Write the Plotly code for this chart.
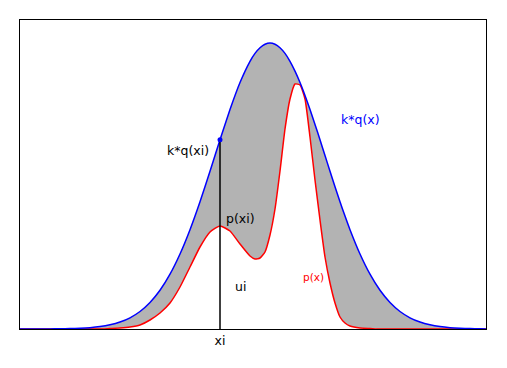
import plotly.graph_objects as go

# x positions (arbitrary units along the axis)
x_vals = [0, 10, 20, 30, 40, 50, 60, 70, 80, 90, 100, 110, 120, 130, 140, 150, 160, 170, 180, 190,
          200, 210, 220, 230, 235, 240, 245, 250, 255, 260, 265, 270, 275, 280, 285, 290, 295, 300,
          305, 310, 315, 320, 325, 330, 340, 350, 360, 370, 380, 390, 400, 410, 420, 430, 440,
          450, 460, 466]

# envelope k*q(x)
kq_vals = [0.0, 0.02, 0.05, 0.10, 0.19, 0.38, 0.73, 1.35, 2.41, 4.16, 6.94, 11.2, 17.5, 26.5, 38.7,
           54.8, 75.0, 99.3, 127.2, 157.7, 189.2, 219.5, 246.5, 267.7, 275.6, 281.3, 284.8, 286.0,
           284.8, 281.3, 275.6, 267.7, 257.9, 246.5, 233.6, 219.5, 204.6, 189.2, 173.5, 157.7,
           142.3, 127.2, 112.9, 99.3, 75.0, 54.8, 38.7, 26.5, 17.5, 11.2, 6.94, 4.16, 2.41,
           1.35, 0.73, 0.38, 0.19, 0.12]

# target density p(x)
p_vals = [0, 0, 0, 0, 0, 0, 0, 0, 0, 0.5, 1, 2, 4, 9, 16, 26, 42, 62, 82, 97,
          103, 98, 85,
          73, 70, 71, 77, 94, 120, 158, 200, 230, 245, 244, 230, 192, 149, 109, 72, 46, 26, 12, 6, 3,
          1, 0.5, 0, 0, 0, 0, 0, 0, 0, 0, 0, 0, 0,
          0]

xi = 200
kq_xi = 189.2

tick_vals = [xi]
tick_text = ["xi"]

FONT = "DejaVu Sans"

fig = go.Figure()
# fill between p and k*q
fig.add_trace(go.Scatter(x=x_vals, y=p_vals, mode="lines", line=dict(width=0, shape="spline", smoothing=0.5),
                         hoverinfo="skip", showlegend=False))
fig.add_trace(go.Scatter(x=x_vals, y=kq_vals, mode="lines", line=dict(width=0, shape="spline", smoothing=0.5),
                         fill="tonexty", fillcolor="#b3b3b3", hoverinfo="skip", showlegend=False))
# curves
fig.add_trace(go.Scatter(x=x_vals, y=p_vals, mode="lines",
                         line=dict(color="red", width=1.5, shape="spline", smoothing=0.5), showlegend=False))
fig.add_trace(go.Scatter(x=x_vals, y=kq_vals, mode="lines",
                         line=dict(color="blue", width=1.5, shape="spline", smoothing=0.5), showlegend=False))
# vertical sample line
fig.add_trace(go.Scatter(x=[xi, xi], y=[0, kq_xi], mode="lines",
                         line=dict(color="black", width=1.5), showlegend=False))
fig.add_trace(go.Scatter(x=[xi], y=[kq_xi], mode="markers",
                         marker=dict(color="blue", size=5), showlegend=False))

fig.add_annotation(x=168, y=179, text="k*q(xi)", showarrow=False,
                   font=dict(family=FONT, size=12.5, color="black"))
fig.add_annotation(x=204, y=111, text="p(xi)", showarrow=False, xanchor="left",
                   font=dict(family=FONT, size=12.5, color="black"))
fig.add_annotation(x=220, y=43, text="ui", showarrow=False,
                   font=dict(family=FONT, size=12.5, color="black"))
fig.add_annotation(x=340, y=210, text="k*q(x)", showarrow=False,
                   font=dict(family=FONT, size=12.5, color="blue"))
fig.add_annotation(x=293, y=52, text="p(x)", showarrow=False,
                   font=dict(family=FONT, size=10.5, color="red"))

fig.update_layout(
    width=507, height=368,
    margin=dict(l=20, r=21, t=20, b=39),
    plot_bgcolor="white", paper_bgcolor="white",
    font=dict(family=FONT, size=12.5, color="black"),
    xaxis=dict(range=[0, 466], showgrid=False, zeroline=False, showline=True, mirror=True,
               linecolor="black", linewidth=1, tickvals=tick_vals, ticktext=tick_text,
               ticks="", tickfont=dict(family=FONT, size=12.5)),
    yaxis=dict(range=[0, 309], showgrid=False, zeroline=False, showline=True, mirror=True,
               linecolor="black", linewidth=1, showticklabels=False, ticks=""),
)

fig.write_html("out.html", config={"displayModeBar": False},
               post_script="document.body.style.margin='0';")
